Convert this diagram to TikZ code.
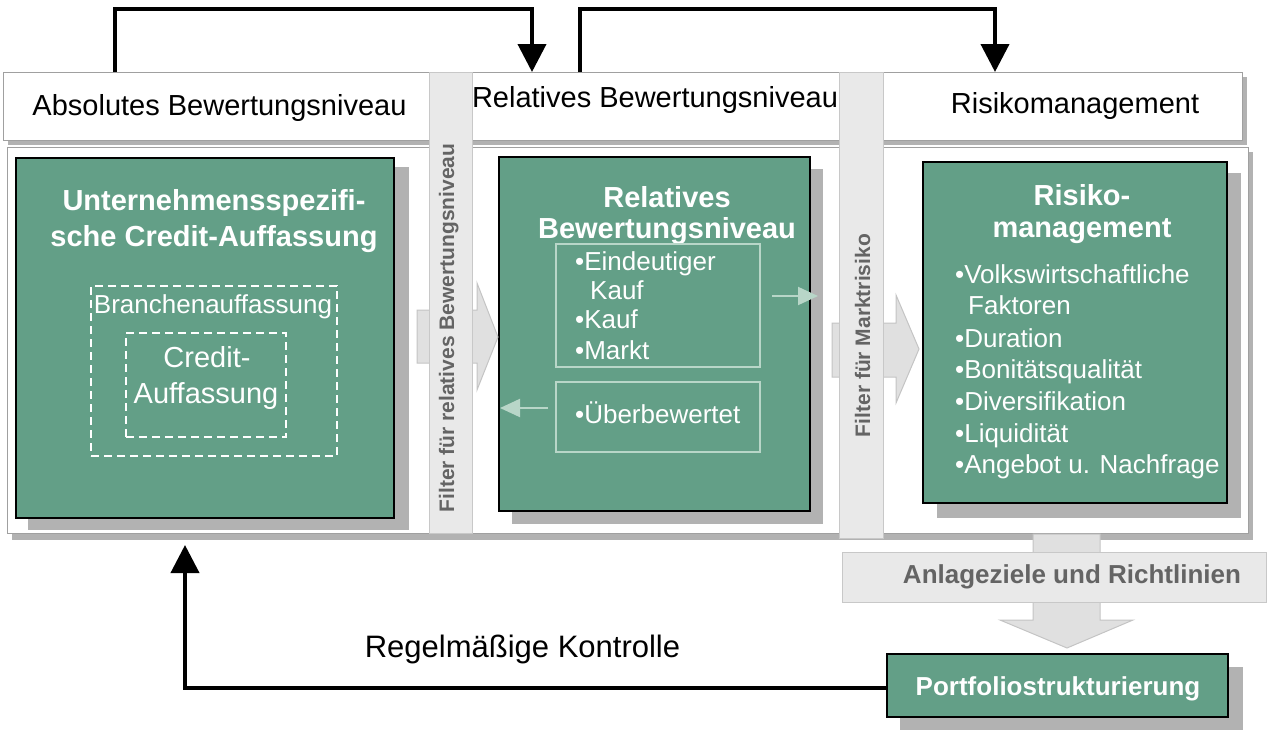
\documentclass[tikz,border=0pt]{standalone}
\usepackage{fontspec}
\setmainfont{Liberation Sans}
\usetikzlibrary{arrows.meta,calc}
\definecolor{boxgreen}{RGB}{99,159,135}
\definecolor{shadowgray}{RGB}{178,178,178}
\definecolor{panelborder}{RGB}{160,160,160}
\definecolor{barfill}{RGB}{233,233,233}
\definecolor{barborder}{RGB}{200,200,200}
\definecolor{arrowfill}{RGB}{224,224,224}
\definecolor{arrowborder}{RGB}{196,196,196}
\definecolor{bartext}{RGB}{100,100,100}
\definecolor{lightgreen}{RGB}{184,214,200}
\newcommand\fsz[1]{\fontsize{#1}{#1}\selectfont}
\begin{document}
\begin{tikzpicture}[x=1pt,y=-1pt,
  shadowfill/.style={fill=shadowgray},
  panel/.style={draw=panelborder,line width=1pt,fill=white,inner sep=0,outer sep=0},
  greenbox/.style={draw=black,line width=1.5pt,fill=boxgreen,inner sep=0,outer sep=0},
  filterbar/.style={draw=barborder,line width=1pt,fill=barfill,inner sep=0,outer sep=0},
  blockarrow/.style={draw=arrowborder,line width=1pt,fill=arrowfill},
  dashbox/.style={draw=white,line width=2pt,dash pattern=on 8pt off 5pt,inner sep=0},
  subbox/.style={draw=lightgreen,line width=1.5pt,inner sep=0},
  flow/.style={line width=4pt,-{Triangle[length=28pt,width=28pt]}},
  smallflow/.style={draw=lightgreen,line width=2pt,-{Triangle[length=20pt,width=18pt]}},
  hdr/.style={anchor=base,font=\fsz{29},inner sep=0},
  ttl/.style={anchor=base,font=\bfseries\fsz{29},text=white,inner sep=0},
  itm/.style={anchor=base west,font=\fsz{26},text=white,inner sep=0},
  bartxt/.style={anchor=base,rotate=90,font=\bfseries\fsz{21},text=bartext,inner sep=0},
]
\useasboundingbox (0,0) rectangle (1267,731);

% header panel
\fill[shadowfill] (8,77) rectangle (1247,145);
\node[panel,minimum width=1239pt,minimum height=68pt] (header) at (622.5,106) {};
% body panel
\fill[shadowfill] (12,152) rectangle (1253,540);
\node[panel,minimum width=1241pt,minimum height=386pt] (body) at (627.5,340) {};

% green boxes
\fill[shadowfill] (28,167) rectangle (409,530);
\node[greenbox,minimum width=378pt,minimum height=360pt] (g1) at (205,338) {};
\fill[shadowfill] (512,169) rectangle (823,524);
\node[greenbox,minimum width=311pt,minimum height=354pt] (g2) at (654.5,334) {};
\fill[shadowfill] (937,173) rectangle (1241,518);
\node[greenbox,minimum width=304pt,minimum height=341pt] (g3) at (1075,332.5) {};

% block arrows through the filters
\draw[blockarrow] (417,310) -- (477,310) -- (477,283) -- (498,337) -- (477,390) -- (477,363) -- (417,363) -- cycle;
\draw[blockarrow] (832,323) -- (896,323) -- (896,295) -- (919,349) -- (896,403) -- (896,377) -- (832,377) -- cycle;

% filter bars
\node[filterbar,minimum width=43pt,minimum height=461pt] (bar1) at (450.5,302.5) {};
\node[filterbar,minimum width=44pt,minimum height=466pt] (bar2) at (861,305) {};
\node[bartxt] (bar1t) at (454,328) {Filter für relatives Bewertungsniveau};
\node[bartxt] (bar2t) at (870,335.5) {Filter für Marktrisiko};

% down block arrow and goals bar
\draw[blockarrow] (1033,534) -- (1100,534) -- (1100,620) -- (1133,620) -- (1067,648) -- (1000,620) -- (1033,620) -- cycle;
\node[filterbar,minimum width=424pt,minimum height=50pt] (goals) at (1054,577) {};
\node[anchor=base,font=\bfseries\fsz{26},text=bartext,inner sep=0] (goalst) at (1072,583) {Anlageziele und Richtlinien};

% portfolio box
\fill[shadowfill] (900,667) rectangle (1243,730);
\node[greenbox,minimum width=341pt,minimum height=63pt] (port) at (1057.5,685.5) {};
\node[anchor=base,font=\bfseries\fsz{26},text=white,inner sep=0] (portt) at (1058,695) {Portfoliostrukturierung};

% header texts
\node[hdr] (habs) at (219.5,115) {Absolutes Bewertungsniveau};
\node[hdr] (hrel) at (655,107) {Relatives Bewertungsniveau};
\node[hdr] (hrisk) at (1075,113) {Risikomanagement};

% box 1 content
\node[ttl] (t1a) at (214,210) {Unternehmensspezifi-};
\node[ttl] (t1b) at (214,246) {sche Credit-Auffassung};
\node[dashbox,minimum width=246pt,minimum height=170pt] (branch) at (214,371) {};
\node[dashbox,minimum width=160pt,minimum height=104pt] (credit) at (206,385) {};
\node[anchor=base,font=\fsz{26},text=white,inner sep=0] (brancht) at (213,313) {Branchenauffassung};
\node[anchor=base,font=\fsz{29},text=white,inner sep=0] (credt1) at (207,367) {Credit-};
\node[anchor=base,font=\fsz{29},text=white,inner sep=0] (credt2) at (206,403) {Auffassung};

% box 2 content
\node[ttl] (t2a) at (667,207) {Relatives};
\node[ttl] (t2b) at (667,238) {Bewertungsniveau};
\node[subbox,minimum width=204pt,minimum height=123pt] (subA) at (658,305.5) {};
\node[subbox,minimum width=204pt,minimum height=70pt] (subB) at (658,417) {};
\node[itm] (i21) at (575,270.5) {•Eindeutiger};
\node[itm] (i22) at (590,299) {Kauf};
\node[itm] (i23) at (575,328) {•Kauf};
\node[itm] (i24) at (575,359) {•Markt};
\node[itm] (i25) at (575,423) {•Überbewertet};
\coordinate (sr1) at (772,296);
\coordinate (sr2) at (818,296);
\coordinate (sl1) at (548,408);
\coordinate (sl2) at (500,408);
\draw[smallflow] (sr1) -- (sr2);
\draw[smallflow] (sl1) -- (sl2);

% box 3 content
\node[ttl] (t3a) at (1082,205) {Risiko-};
\node[ttl] (t3b) at (1082,237) {management};
\node[itm] (i31) at (955,283) {•Volkswirtschaftliche};
\node[itm] (i32) at (968,314) {Faktoren};
\node[itm] (i33) at (955,347) {•Duration};
\node[itm] (i34) at (955,378) {•Bonitätsqualität};
\node[itm] (i35) at (955,410) {•Diversifikation};
\node[itm] (i36) at (955,442) {•Liquidität};
\node[itm] (i37) at (955,473) {•Angebot u. Nachfrage};

% top connectors
\coordinate (a1s) at (115,72);
\coordinate (a1e) at (532,72);
\coordinate (a2s) at (580,72);
\coordinate (a2e) at (995,72);
\draw[flow] (a1s) -- ++(0,-63.5) -| (a1e);
\draw[flow] (a2s) -- ++(0,-63.5) -| (a2e);

% feedback connector
\coordinate (fb) at (185,545);
\draw[flow] ([yshift=-2.5pt]port.west) -| (fb);
\node[anchor=base,font=\fsz{31},inner sep=0] (fbt) at (522.5,657) {Regelmäßige Kontrolle};
\end{tikzpicture}
\end{document}
